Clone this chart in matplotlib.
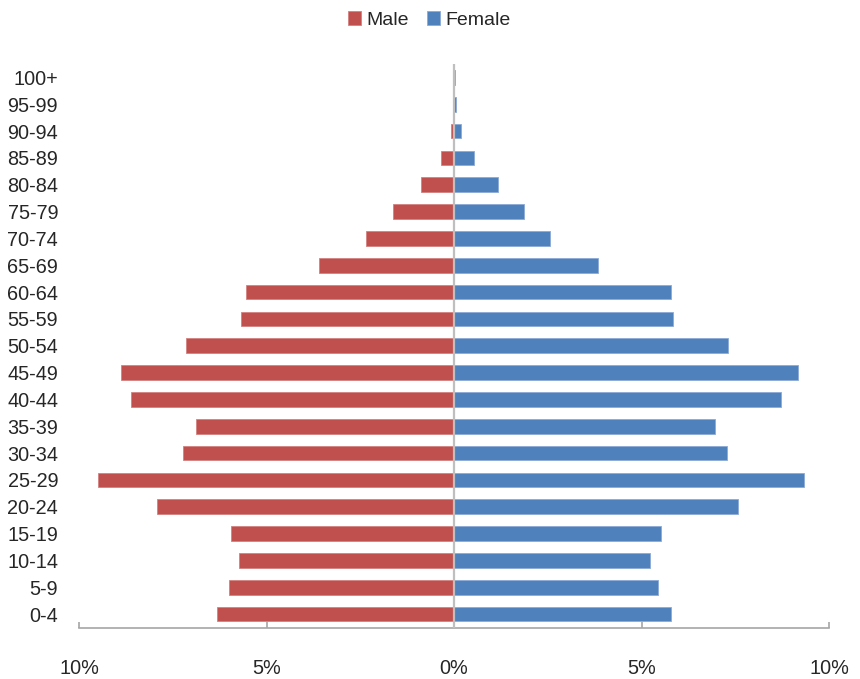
import matplotlib
matplotlib.use('Agg')
import matplotlib.pyplot as plt
import numpy as np
from matplotlib.ticker import FuncFormatter

plt.rcParams['font.family'] = ['Liberation Sans', 'DejaVu Sans']

# age groups, youngest first
age_groups = ['0-4', '5-9', '10-14', '15-19', '20-24', '25-29', '30-34',
              '35-39', '40-44', '45-49', '50-54', '55-59', '60-64', '65-69',
              '70-74', '75-79', '80-84', '85-89', '90-94', '95-99', '100+']

# share of population (%)
male = [6.33, 6.00, 5.73, 5.95, 7.93, 9.49, 7.24, 6.89, 8.62, 8.89, 7.16,
        5.69, 5.56, 3.61, 2.36, 1.63, 0.89, 0.34, 0.09, 0.04, 0.02]
female = [5.78, 5.45, 5.23, 5.53, 7.57, 9.34, 7.27, 6.96, 8.72, 9.16, 7.30,
          5.84, 5.78, 3.84, 2.55, 1.86, 1.17, 0.53, 0.18, 0.04, 0.03]

x_ticks = [-10, -5, 0, 5, 10]

RED = '#C0504D'
BLUE = '#4F81BD'
AXIS_GREY = '#A6A6A6'

fig = plt.figure(figsize=(8.6, 6.79), dpi=100)
ax = fig.add_axes([79 / 860, 1 - 627.5 / 679, 750 / 860, (627.5 - 64) / 679])

y = np.arange(len(age_groups))
ax.barh(y, -np.array(male), height=0.55, color=RED, edgecolor='#D4817F',
        linewidth=0.6, label='Male', zorder=2)
ax.barh(y, female, height=0.55, color=BLUE, edgecolor='#8BAAD6',
        linewidth=0.6, label='Female', zorder=2)

# vertical axis through 0%
ax.axvline(0, color='#BFBFBF', linewidth=1.6, zorder=3)

ax.set_xlim(-10, 10)
ax.set_ylim(-0.5, len(age_groups) - 0.5)
ax.set_xticks(x_ticks)
ax.xaxis.set_major_formatter(FuncFormatter(lambda v, p: f'{abs(v):.0f}%'))
ax.set_yticks(y)
ax.set_yticklabels(age_groups)

for side in ['top', 'right', 'left']:
    ax.spines[side].set_visible(False)
ax.spines['bottom'].set_color(AXIS_GREY)
ax.spines['bottom'].set_linewidth(1.2)

ax.tick_params(axis='x', direction='in', length=4.5, width=1.2,
               color=AXIS_GREY, pad=22.5, labelsize=14.3, labelcolor='#262626')
ax.tick_params(axis='y', length=0, pad=15, labelsize=14.3, labelcolor='#262626')

fig.legend(loc='center', bbox_to_anchor=(429.5 / 860, 1 - 20 / 679), ncol=2,
           frameon=False, fontsize=14, handlelength=0.67, handleheight=0.67,
           handletextpad=0.3, columnspacing=0.9, labelcolor='#262626')

fig.savefig('out.png', dpi=100)
